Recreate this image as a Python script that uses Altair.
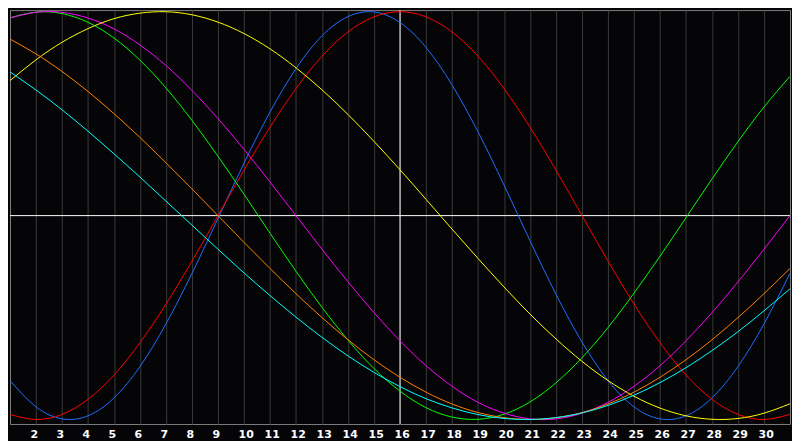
import altair as alt
import pandas as pd

# day of month and the seven cycle values (-1 .. 1)
days = list(range(1, 32))
today = 16

physical = [-0.809, -0.938, -0.997, -0.982, -0.894, -0.740, -0.531, -0.283, -0.014, 0.257, 0.508,
            0.721, 0.882, 0.976, 0.999, 0.947, 0.825, 0.641, 0.411, 0.150, -0.123, -0.386,
            -0.620, -0.809, -0.938, -0.997, -0.982, -0.894, -0.740, -0.531, -0.283]
emotional = [-0.975, -1.000, -0.975, -0.901, -0.782, -0.623, -0.434, -0.223, 0.000, 0.223, 0.434,
             0.623, 0.782, 0.901, 0.975, 1.000, 0.975, 0.901, 0.782, 0.623, 0.434, 0.223,
             0.000, -0.223, -0.434, -0.623, -0.782, -0.901, -0.975, -1.000, -0.975]
intellectual = [0.970, 0.998, 0.991, 0.948, 0.871, 0.762, 0.626, 0.467, 0.291, 0.105, -0.086,
                -0.273, -0.450, -0.611, -0.750, -0.861, -0.942, -0.988, -0.999, -0.974, -0.914, -0.820,
                -0.697, -0.549, -0.380, -0.199, -0.010, 0.180, 0.363, 0.533, 0.683]
intuitive = [0.969, 0.997, 0.997, 0.969, 0.916, 0.837, 0.736, 0.614, 0.476, 0.325, 0.165,
             0.000, -0.165, -0.325, -0.476, -0.614, -0.736, -0.837, -0.916, -0.969, -0.997, -0.997,
             -0.969, -0.916, -0.837, -0.736, -0.614, -0.476, -0.325, -0.165, 0.000]
aesthetic = [0.662, 0.764, 0.850, 0.917, 0.966, 0.993, 1.000, 0.985, 0.949, 0.893, 0.818,
             0.725, 0.617, 0.496, 0.364, 0.225, 0.080, -0.066, -0.210, -0.350, -0.483, -0.605,
             -0.715, -0.809, -0.886, -0.944, -0.982, -0.999, -0.995, -0.969, -0.923]
awareness = [0.866, 0.793, 0.707, 0.609, 0.500, 0.383, 0.259, 0.131, 0.000, -0.131, -0.259,
             -0.383, -0.500, -0.609, -0.707, -0.793, -0.866, -0.924, -0.966, -0.991, -1.000, -0.991,
             -0.966, -0.924, -0.866, -0.793, -0.707, -0.609, -0.500, -0.383, -0.259]
spiritual = [0.705, 0.616, 0.519, 0.414, 0.303, 0.189, 0.071, -0.047, -0.165, -0.281, -0.392,
             -0.498, -0.597, -0.688, -0.769, -0.839, -0.898, -0.943, -0.976, -0.995, -1.000, -0.991,
             -0.968, -0.931, -0.881, -0.819, -0.746, -0.662, -0.569, -0.467, -0.359]

cycle_names = ["physical", "emotional", "intellectual", "intuitive", "aesthetic", "awareness", "spiritual"]
cycle_values = [physical, emotional, intellectual, intuitive, aesthetic, awareness, spiritual]
cycle_colors = ["#1e6eff", "#ff0000", "#00ff00", "#ff00ff", "#ffff00", "#ff8000", "#00ffff"]

rows = []
for name, values in zip(cycle_names, cycle_values):
    for day, value in zip(days, values):
        rows.append({"day": day, "cycle": name, "value": value})
cycles = pd.DataFrame(rows)

x_scale = alt.Scale(domain=[1, 31], nice=False, zero=False)
y_scale = alt.Scale(domain=[-1.022, 1.008], nice=False, zero=False)
x_axis = alt.Axis(
    values=days[1:-1],
    title=None,
    grid=True,
    gridColor="#3a3a3a",
    gridWidth=1,
    domain=False,
    ticks=False,
    tickSize=0,
    labelColor="#ffffff",
    labelFont="DejaVu Sans",
    labelFontWeight="bold",
    labelFontSize=11,
    labelAlign="left",
    labelOffset=-6,
    labelPadding=5,
)

zero_line = (
    alt.Chart(pd.DataFrame({"value": [0]}))
    .mark_rule(color="#ffffff", strokeWidth=1)
    .encode(y=alt.Y("value", type="quantitative", scale=y_scale, axis=None))
)

today_line = (
    alt.Chart(pd.DataFrame({"day": [today]}))
    .mark_rule(color="#ffffff", strokeWidth=1)
    .encode(x=alt.X("day", type="quantitative", scale=x_scale, axis=x_axis))
)

curves = (
    alt.Chart(cycles)
    .mark_line(strokeWidth=1, interpolate="natural")
    .encode(
        x=alt.X("day", type="quantitative", scale=x_scale, axis=x_axis),
        y=alt.Y("value", type="quantitative", scale=y_scale, axis=None),
        color=alt.Color(
            "cycle",
            type="nominal",
            scale=alt.Scale(domain=cycle_names, range=cycle_colors),
            legend=None,
        ),
    )
)

chart = (
    alt.layer(zero_line, today_line, curves)
    .properties(width=784, height=416, padding=0, background="#050508")
    .configure_view(stroke="#808080", strokeWidth=1, fill="#050508")
)

chart.save("out.html", embed_options={"renderer": "svg", "actions": False})
